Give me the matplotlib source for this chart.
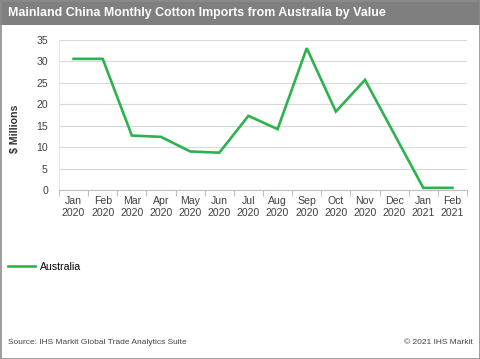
import matplotlib
matplotlib.use("Agg")
import matplotlib.pyplot as plt
from matplotlib.patches import Rectangle

plt.rcParams["font.family"] = ["Liberation Sans", "DejaVu Sans"]

# data
months = ["Jan\n2020", "Feb\n2020", "Mar\n2020", "Apr\n2020", "May\n2020", "Jun\n2020",
          "Jul\n2020", "Aug\n2020", "Sep\n2020", "Oct\n2020", "Nov\n2020", "Dec\n2020",
          "Jan\n2021", "Feb\n2021"]
australia = [30.6, 30.6, 12.7, 12.4, 9.0, 8.7, 17.3, 14.2, 33.1, 18.3, 25.7, 13.1, 0.5, 0.5]
y_ticks = [0, 5, 10, 15, 20, 25, 30, 35]

GREEN = "#2db34e"
W, H = 480, 359

fig = plt.figure(figsize=(W / 100, H / 100), dpi=100)
fig.patch.set_facecolor("white")

# title bar + border
fig.patches.append(Rectangle((0, 1 - 25 / H), 1, 25 / H, transform=fig.transFigure,
                             facecolor="#7f7f7f", edgecolor="none", zorder=0))
fig.patches.append(Rectangle((0.5 / W, 0.5 / H), 1 - 1 / W, 1 - 1 / H, transform=fig.transFigure,
                             facecolor="none", edgecolor="#8c8c8c", linewidth=1.2, zorder=5))
fig.text(8 / W, 1 - 13 / H, "Mainland China Monthly Cotton Imports from Australia by Value",
         color="white", fontsize=8.9, fontweight="bold", ha="left", va="center")

ax = fig.add_axes([59 / W, 1 - 190 / H, (467 - 59) / W, 150 / H])
x = list(range(len(months)))
line, = ax.plot(x, australia, color=GREEN, linewidth=1.9, solid_joinstyle="miter",
                label="Australia")

ax.set_xlim(-0.5, len(months) - 0.5)
ax.set_ylim(0, 35)
ax.set_yticks(y_ticks)
ax.set_xticks(x)
ax.set_xticklabels(months, fontsize=7.6, color="#404040", linespacing=1.25)
ax.set_xticks([i - 0.5 for i in range(len(months) + 1)], minor=True)
ax.tick_params(axis="x", which="major", length=0, pad=4)
ax.tick_params(axis="x", which="minor", length=4, color="#bfbfbf", width=0.8)
ax.tick_params(axis="y", length=0, labelsize=7.6, labelcolor="#404040", pad=8)

ax.grid(axis="y", color="#d9d9d9", linewidth=0.8)
ax.set_axisbelow(True)
for s in ["top", "right"]:
    ax.spines[s].set_visible(False)
ax.spines["left"].set_color("#e6e6e6")
ax.spines["left"].set_linewidth(0.8)
ax.spines["bottom"].set_color("#bfbfbf")
ax.spines["bottom"].set_linewidth(0.8)

fig.text(15 / W, 1 - 129 / H, "$ Millions", rotation=90, fontsize=7.6, fontweight="bold",
         color="#333333", ha="center", va="center")

fig.legend(handles=[line], loc="center left", bbox_to_anchor=(8 / W, 1 - 267 / H),
           frameon=False, fontsize=7.6, handlelength=2.6, handletextpad=0.4,
           borderaxespad=0, borderpad=0)

fig.text(8 / W, 1 - 343 / H, "Source: IHS Markit Global Trade Analytics Suite",
         fontsize=6, color="#444444", ha="left", va="center")
fig.text(473 / W, 1 - 343 / H, "\u00a9 2021 IHS Markit",
         fontsize=6, color="#444444", ha="right", va="center")

fig.savefig("out.png", dpi=100)
